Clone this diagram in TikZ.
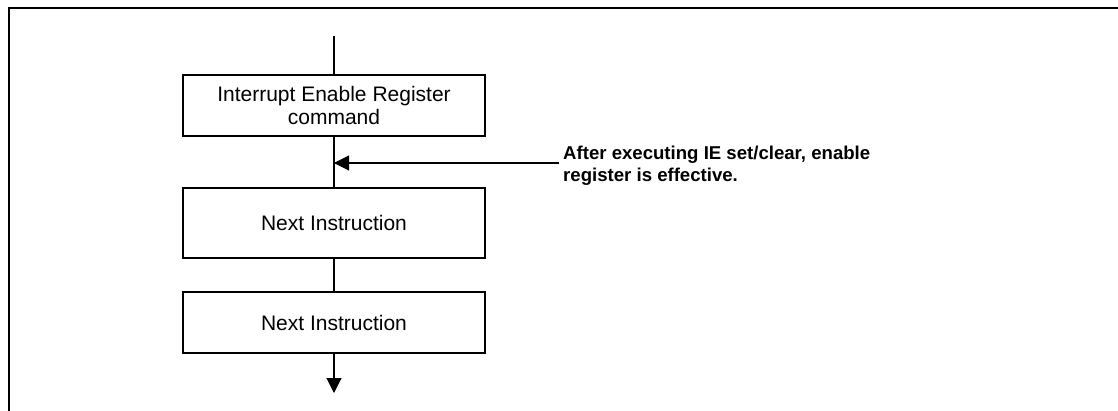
\documentclass[tikz,border=0pt]{standalone}
\usepackage{fontspec}
\setmainfont{Liberation Sans}
\usetikzlibrary{arrows.meta}
\begin{document}
\begin{tikzpicture}[x=1pt,y=-1pt,
  stepbox/.style={draw,line width=2pt,minimum width=302pt,inner sep=0pt,
    font=\fontsize{21}{23.5}\selectfont,align=center},
  link/.style={line width=1.1pt},
  arr/.style={line width=1.1pt,-{Triangle[length=15pt,width=15pt]}},
  note/.style={font=\bfseries\fontsize{18.6}{21.5}\selectfont,align=left,anchor=north west,inner sep=0pt}]
\useasboundingbox (0,0) rectangle (1118,411);
% outer frame (runs off the right and bottom edges)
\draw[line width=2pt] (8.5,430) -- (8.5,8) -- (1140,8);
% flow
\coordinate (top) at (334,36);
\node[stepbox,minimum height=61pt] (ie) at (334,105.5) {Interrupt Enable Register\\command};
\node[stepbox,minimum height=70pt] (n1) at (334,223) {Next Instruction};
\node[stepbox,minimum height=61pt] (n2) at (334,322.5) {Next Instruction};
\coordinate (bot) at (334,393);
\draw[link] (top) -- (ie.north);
\draw[link] (ie.south) -- (n1.north);
\draw[link] (n1.south) -- (n2.north);
\draw[arr] (n2.south) -- (bot);
% annotation
\node[note] (txt) at (563,146) {After executing IE set/clear, enable\\register is effective.};
\coordinate (tip) at (334,163);
\draw[arr] (txt.west |- tip) ++(-4,0) coordinate (start) -- (tip);
\end{tikzpicture}
\end{document}
